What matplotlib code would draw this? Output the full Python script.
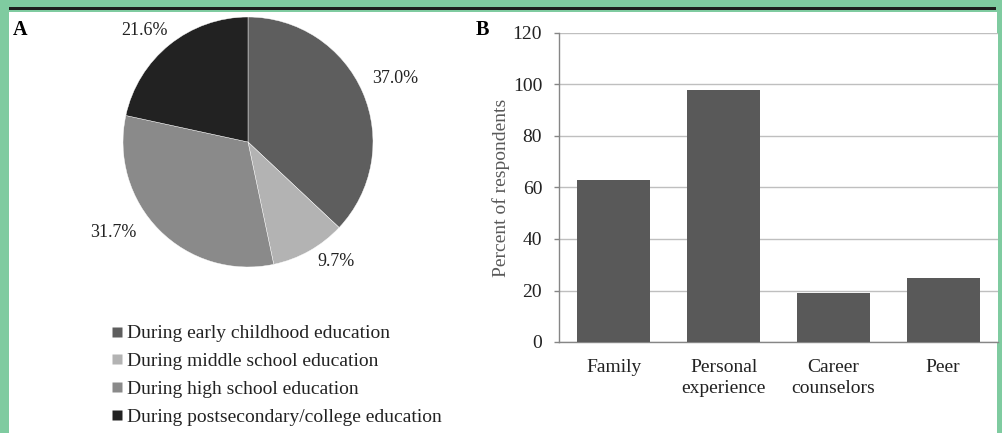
import numpy as np
import matplotlib
matplotlib.use('Agg')
import matplotlib.pyplot as plt
from matplotlib.patches import Rectangle
from matplotlib.lines import Line2D

# panel A: when participants became interested
stages = ['During early childhood education',
          'During middle school education',
          'During high school education',
          'During postsecondary/college education']
stage_pct = [37.0, 9.7, 31.7, 21.6]
stage_colors = ['#5e5e5e', '#b3b3b3', '#8a8a8a', '#222222']

# panel B: sources of support
sources = ['Family', 'Personal\nexperience', 'Career\ncounselors', 'Peer']
source_pct = [63, 98, 19, 25]

W, H = 1003, 433
plt.rcParams['font.family'] = ['Liberation Serif', 'DejaVu Serif']

fig = plt.figure(figsize=(W / 100, H / 100), dpi=100, facecolor='#7fcba0')


def px_box(left, top, right, bottom):
    return [left / W, 1 - bottom / H, (right - left) / W, (bottom - top) / H]


# white panel and the black rule above it
fig.patches.append(Rectangle((9 / W, 0), (997 - 9) / W, 1 - 12 / H,
                             transform=fig.transFigure, facecolor='white',
                             edgecolor='none', zorder=-10))
fig.patches.append(Rectangle((9 / W, 1 - 10 / H), (996 - 9) / W, 3 / H,
                             transform=fig.transFigure, facecolor='#1e1e1e',
                             edgecolor='none', zorder=-10))

# ---- pie ----
ax1 = fig.add_axes(px_box(123, 17, 373, 267))
wedges, _ = ax1.pie(stage_pct, colors=stage_colors, startangle=90,
                    counterclock=False, radius=1,
                    wedgeprops=dict(edgecolor='white', linewidth=0.3))
ax1.set_xlim(-1, 1)
ax1.set_ylim(-1, 1)
ax1.set_aspect('equal')
ax1.axis('off')

# label nudges (angle deg, radius) like Excel's best-fit placement
nudges = [(0, 1.28), (7, 1.19), (-11, 1.30), (4, 1.22)]
for w, pct, (da, r) in zip(wedges, stage_pct, nudges):
    mid = np.deg2rad((w.theta1 + w.theta2) / 2 + da)
    ax1.text(r * np.cos(mid), r * np.sin(mid), '{:.1f}%'.format(pct),
             ha='center', va='center', fontsize=13, color='#222222',
             clip_on=False)

handles = [Line2D([], [], linestyle='none', marker='s', markersize=7.5,
                  markerfacecolor=c, markeredgecolor='none')
           for c in stage_colors]
fig.legend(handles, stages, loc='upper left',
           bbox_to_anchor=(101 / W, 1 - 315 / H), frameon=False,
           borderpad=0, handlelength=0.6, handletextpad=0.25,
           labelspacing=0.52, fontsize=14, labelcolor='#222222')

fig.text(20 / W, 1 - 30 / H, 'A', fontsize=14.5, fontweight='bold',
         ha='center', va='center')
fig.text(482 / W, 1 - 30 / H, 'B', fontsize=14.5, fontweight='bold',
         ha='center', va='center')

# ---- bars ----
ax2 = fig.add_axes(px_box(559, 33, 998, 342))
x = np.arange(len(sources))
ax2.bar(x, source_pct, width=0.665, color='#595959', zorder=3)
ax2.set_xlim(-0.5, len(sources) - 0.5)
ax2.set_ylim(0, 120)
ax2.set_yticks(np.arange(0, 121, 20))
ax2.set_xticks(x)
ax2.set_xticklabels(sources, fontsize=14, color='#222222', linespacing=1.3)
ax2.tick_params(axis='x', length=0, pad=12)
ax2.tick_params(axis='y', length=3.6, width=1, color='#868686', pad=8.5,
                labelsize=14, labelcolor='#222222')
ax2.grid(axis='y', color='#bfbfbf', linewidth=1, zorder=0)
for side in ['top', 'right']:
    ax2.spines[side].set_visible(False)
for side in ['left', 'bottom']:
    ax2.spines[side].set_color('#868686')
    ax2.spines[side].set_linewidth(1)
ax2.set_ylabel('Percent of respondents', fontsize=14, color='#595959',
               labelpad=2)

fig.savefig('out.png', dpi=100, facecolor=fig.get_facecolor())
